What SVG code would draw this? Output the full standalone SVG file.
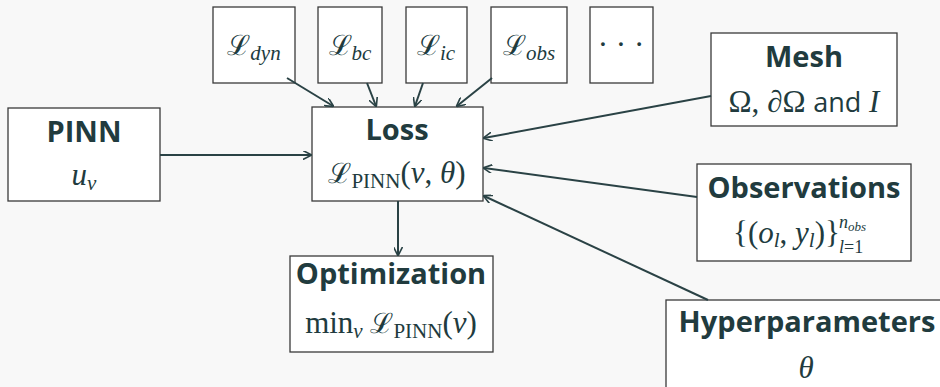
<svg xmlns="http://www.w3.org/2000/svg" width="940" height="387" viewBox="0 0 940 387">
<defs>
<marker id="ah" viewBox="0 0 10 10" refX="9" refY="5" markerWidth="9" markerHeight="9" markerUnits="userSpaceOnUse" orient="auto">
<path d="M0,0 L10,5 L0,10" fill="none" stroke="#2a4245" stroke-width="1.8"/>
</marker>
<style>
.bx{fill:#fff;stroke:#3a3a3a;stroke-width:1.3}
.t{font-family:"Open Sans",Lato,sans-serif;font-weight:bold;font-size:29px;fill:#213b3e;text-anchor:middle}
.m{font-family:"Liberation Serif","DejaVu Serif",serif;font-size:31px;fill:#213b3e;text-anchor:middle}
.st{text-anchor:start}
.i{font-style:italic}
.s{font-size:21px}
.ss{font-size:18px}
.sc{font-family:"DejaVu Serif","Liberation Serif",serif;font-size:28px}
.w{font-family:"Open Sans",sans-serif;font-size:27px}
.c{fill:none;stroke:#2a4245;stroke-width:2;marker-end:url(#ah)}
</style>
</defs>
<rect width="940" height="387" fill="#f8f8f8"/>
<g id="ldyn"><rect class="bx" x="213" y="7" width="82" height="76"/><text class="m" x="254" y="55"><tspan class="sc">ℒ</tspan><tspan class="i s" dy="5">dyn</tspan></text></g>
<g id="lbc"><rect class="bx" x="318" y="7" width="64" height="76"/><text class="m" x="350" y="55"><tspan class="sc">ℒ</tspan><tspan class="i s" dy="5">bc</tspan></text></g>
<g id="lic"><rect class="bx" x="406" y="7" width="61" height="76"/><text class="m" x="436" y="55"><tspan class="sc">ℒ</tspan><tspan class="i s" dy="5">ic</tspan></text></g>
<g id="lobs"><rect class="bx" x="491" y="7" width="76" height="76"/><text class="m" x="529" y="55"><tspan class="sc">ℒ</tspan><tspan class="i s" dy="5">obs</tspan></text></g>
<g id="ldots"><rect class="bx" x="590" y="7" width="63" height="76"/><text class="m" x="621" y="55">· · ·</text></g>
<g id="pinn"><rect class="bx" x="8" y="108" width="152" height="93"/><text class="t" x="84" y="142">PINN</text><text class="m" x="84" y="185"><tspan class="i">u</tspan><tspan class="i s" dy="5">ν</tspan></text></g>
<g id="loss"><rect class="bx" x="312" y="107" width="171" height="94"/><text class="t" x="397" y="140">Loss</text><text class="m" x="397" y="183"><tspan class="sc">ℒ</tspan><tspan class="s" dy="5">PINN</tspan><tspan dy="-5">(</tspan><tspan class="i">ν</tspan>, <tspan class="i">θ</tspan>)</text></g>
<g id="opt"><rect class="bx" x="290" y="256" width="203" height="96"/><text class="t" x="391" y="284">Optimization</text><text class="m" x="391" y="333">min<tspan class="i s" dy="5">ν</tspan><tspan dy="-5"> </tspan><tspan class="sc">ℒ</tspan><tspan class="s" dy="5">PINN</tspan><tspan dy="-5">(</tspan><tspan class="i">ν</tspan>)</text></g>
<g id="mesh"><rect class="bx" x="711" y="33" width="186" height="93"/><text class="t" x="804" y="67">Mesh</text><text class="m" x="804" y="112">Ω, <tspan class="i">∂</tspan>Ω <tspan class="w">and</tspan> <tspan class="i">I</tspan></text></g>
<g id="obs"><rect class="bx" x="697" y="164" width="214" height="97"/><text class="t" x="804" y="198">Observations</text><text class="m st" x="733" y="243">{(<tspan class="i">o</tspan><tspan class="i s" dy="4">l</tspan><tspan dy="-4">, </tspan><tspan class="i">y</tspan><tspan class="i s" dy="4">l</tspan><tspan dy="-4">)}</tspan></text><text class="m st ss" x="839" y="228"><tspan class="i">n</tspan><tspan class="i" font-size="13" dy="3">obs</tspan></text><text class="m st ss" x="839" y="253"><tspan class="i">l</tspan>=1</text></g>
<g id="hyper"><rect class="bx" x="666" y="300" width="290" height="100"/><text class="t" x="807" y="332">Hyperparameters</text><text class="m i" x="806" y="378">θ</text></g>
<g id="connectors">
<line class="c" x1="287" y1="78" x2="333" y2="106"/>
<line class="c" x1="367" y1="83" x2="376" y2="106"/>
<line class="c" x1="423" y1="83" x2="415" y2="106"/>
<line class="c" x1="492" y1="78" x2="457" y2="106"/>
<line class="c" x1="160" y1="155" x2="311" y2="155"/>
<line class="c" x1="398" y1="201" x2="398" y2="255"/>
<line class="c" x1="711" y1="96" x2="484" y2="138"/>
<line class="c" x1="697" y1="197" x2="484" y2="168"/>
<line class="c" x1="708" y1="300" x2="484" y2="196"/>
</g>
</svg>
